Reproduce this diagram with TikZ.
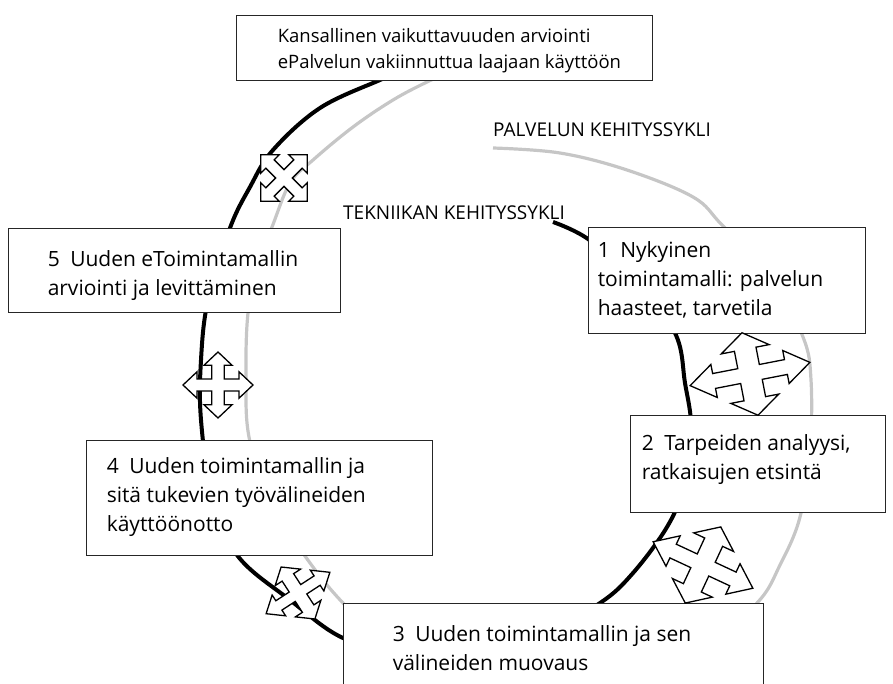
\documentclass[tikz,border=0pt]{standalone}
\usepackage{fontspec}
\setmainfont{Open Sans}
\usetikzlibrary{positioning}

\tikzset{
  techring/.style={black, line width=4pt},
  servring/.style={gray!45, line width=3.2pt},
  box/.style={draw=black!85, line width=0.9pt, fill=white, inner sep=0pt},
  boxtext/.style={align=left, inner sep=0pt, font=\fontsize{21}{29}\selectfont},
  toptext/.style={align=left, inner sep=0pt, font=\fontsize{18.5}{26}\selectfont},
  cyclelabel/.style={anchor=west, inner sep=0pt, font=\fontsize{19}{22}\selectfont},
  arrowline/.style={draw=black, line width=1.3pt, fill=white, line join=miter},
  pics/moveArrow/.style={code={
    \draw[arrowline] (0.18,0.18) -- (0.6,0.18) -- (0.6,0.4) -- (1,0) -- (0.6,-0.4) -- (0.6,-0.18)
      -- (0.18,-0.18) -- (0.18,-0.6) -- (0.4,-0.6) -- (0,-1) -- (-0.4,-0.6) -- (-0.18,-0.6)
      -- (-0.18,-0.18) -- (-0.6,-0.18) -- (-0.6,-0.4) -- (-1,0) -- (-0.6,0.4) -- (-0.6,0.18)
      -- (-0.18,0.18) -- (-0.18,0.6) -- (-0.4,0.6) -- (0,1) -- (0.4,0.6) -- (0.18,0.6) -- cycle;
  }}
}

\begin{document}
\begin{tikzpicture}[x=1pt, y=-1pt]
  \useasboundingbox (0,0) rectangle (893,684);

  % the two cycles, each spiralling up into the top box
  \draw[servring] plot[smooth, tension=0.6] coordinates {
    (493,148) (560,153) (627,170) (693,197) (722,225) (770,275) (803,337) (811,380)
    (810,450) (800,517) (780,565) (757,603) (700,650) (620,676) (540,682) (460,672)
    (390,645) (343,603) (305,556) (270,500) (249,437) (246,375) (248,313) (258,262)
    (272,227) (290,183) (313,160) (353,127) (393,100) (427,82) (450,72)};
  \draw[techring] plot[smooth, tension=0.6] coordinates {
    (553,222) (588,239) (635,280) (675,333) (685,383) (691,430) (682,490) (667,527)
    (633,573) (600,603) (540,635) (470,652) (400,650) (343,638) (290,600) (237,555)
    (212,495) (201,420) (201,360) (208,300) (230,228) (250,187) (273,150) (320,108)
    (380,80) (405,70)};

  % boxes
  \node[box, minimum width=416pt, minimum height=65pt] (tb) at (444,47.5) {};
  \node[box, minimum width=277pt, minimum height=106pt] (b1) at (726.5,280) {};
  \node[box, minimum width=255pt, minimum height=97pt] (b2) at (757.5,463.5) {};
  \node[box, minimum width=420pt, minimum height=87pt] (b3) at (553,646.5) {};
  \node[box, minimum width=346pt, minimum height=115pt] (b4) at (259,497.5) {};
  \node[box, minimum width=332pt, minimum height=84pt] (b5) at (174,270) {};

  \node[toptext, right=42pt of tb.west, yshift=-3pt] (tbt) {Kansallinen vaikuttavuuden arviointi\\ePalvelun vakiinnuttua laajaan käyttöön};
  \node[boxtext, right=10pt of b1.west] (b1t) {1\enspace Nykyinen\\toimintamalli: palvelun\\haasteet, tarvetila};
  \node[boxtext, right=12pt of b2.west, yshift=4pt] (b2t) {2\enspace Tarpeiden analyysi,\\ratkaisujen etsintä};
  \node[boxtext, right=50pt of b3.west, yshift=-2pt] (b3t) {3\enspace Uuden toimintamallin ja sen\\välineiden muovaus};
  \node[boxtext, right=21pt of b4.west] (b4t) {4\enspace Uuden toimintamallin ja\\sitä tukevien työvälineiden\\käyttöönotto};
  \node[boxtext, right=40pt of b5.west, yshift=-6pt] (b5t) {5\enspace Uuden eToimintamallin\\arviointi ja levittäminen};

  % cycle labels
  \node[cyclelabel] (tech) at (343,213) {TEKNIIKAN KEHITYSSYKLI};
  \node[cyclelabel] (serv) at (493,130) {PALVELUN KEHITYSSYKLI};

  % move arrows between the phases
  \pic[rotate=45, xscale=33, yscale=33] at (284,178) {moveArrow};
  \pic[xscale=35, yscale=33] at (218,385) {moveArrow};
  \pic[rotate=11, xscale=61, yscale=42] at (750,374) {moveArrow};
  \pic[rotate=-25, xscale=55, yscale=42] at (703,565) {moveArrow};
  \pic[rotate=33, xscale=38, yscale=31] at (298,593) {moveArrow};
\end{tikzpicture}
\end{document}
